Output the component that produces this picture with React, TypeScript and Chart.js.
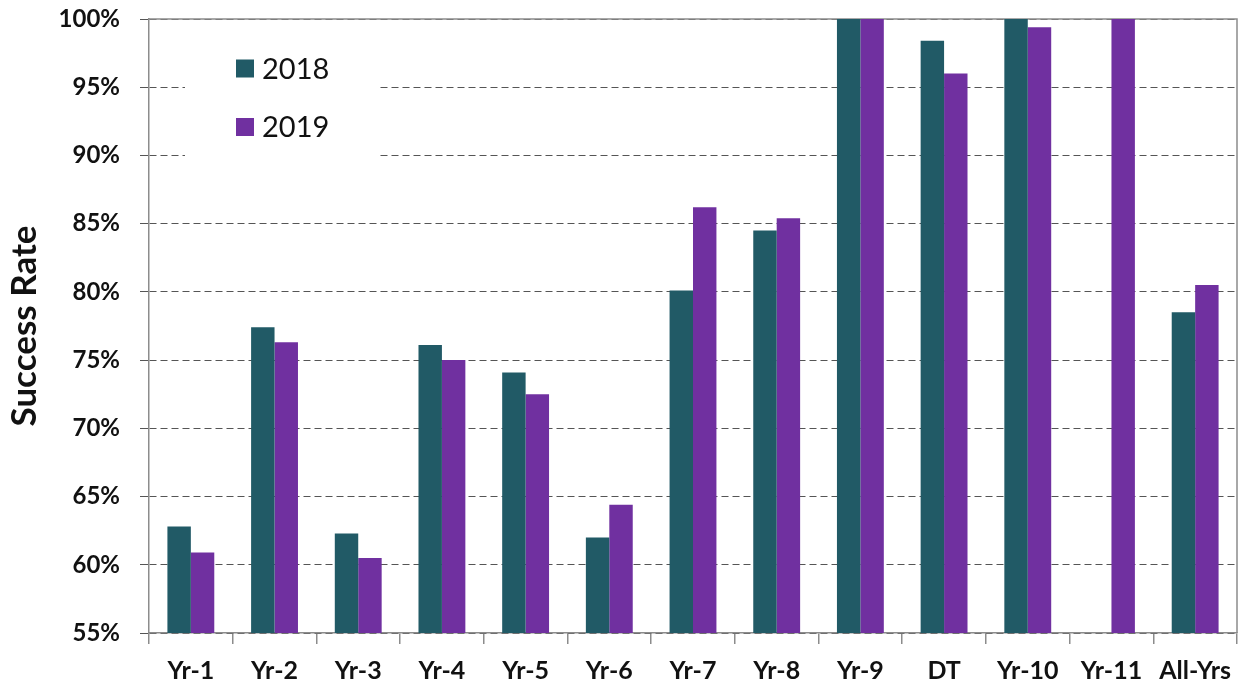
import React, { useEffect, useRef } from "react";
import { Chart, registerables } from "chart.js";

Chart.register(...registerables);

const categories = ["Yr-1", "Yr-2", "Yr-3", "Yr-4", "Yr-5", "Yr-6", "Yr-7", "Yr-8", "Yr-9", "DT", "Yr-10", "Yr-11", "All-Yrs"];
const series2018: (number | null)[] = [62.8, 77.4, 62.3, 76.1, 74.1, 62.0, 80.1, 84.5, 100, 98.4, 100, null, 78.5];
const series2019: (number | null)[] = [60.9, 76.3, 60.5, 75.0, 72.5, 64.4, 86.2, 85.4, 100, 96.0, 99.4, 100, 80.5];
const seriesLabels = ["2018", "2019"];
const yMin = 55;
const yMax = 100;
const yStep = 5;
const yTitle = "Success Rate";

const COLOR_2018 = "#215A66";
const COLOR_2019 = "#7030A0";
const AXIS_COLOR = "#8C8C8C";
const GRID_COLOR = "#555555";
const FONT = "Lato, 'Open Sans', sans-serif";

const framePlugin = {
  id: "frame",
  beforeDatasetsDraw(chart: any) {
    const { ctx, chartArea } = chart;
    ctx.save();
    ctx.strokeStyle = AXIS_COLOR;
    ctx.lineWidth = 1.5;
    ctx.beginPath();
    ctx.moveTo(chartArea.left, chartArea.top);
    ctx.lineTo(chartArea.right, chartArea.top);
    ctx.lineTo(chartArea.right, chartArea.bottom);
    ctx.stroke();

    // legend inside plot
    const boxL = 185, boxT = 32, boxW = 193, boxH = 128;
    ctx.fillStyle = "#ffffff";
    ctx.fillRect(boxL, boxT, boxW, boxH);
    const rows = [68.5, 127];
    chart.data.datasets.forEach((ds: any, i: number) => {
      const cy = rows[i];
      ctx.fillStyle = ds.backgroundColor;
      ctx.fillRect(236, cy - 9, 18, 18);
      ctx.fillStyle = "#111";
      ctx.font = `29px ${FONT}`;
      ctx.textBaseline = "middle";
      ctx.textAlign = "left";
      ctx.fillText(ds.label, 262, cy + 1);
    });
    ctx.restore();
  },
};

export default function App() {
  const ref = useRef<HTMLCanvasElement>(null);
  useEffect(() => {
    document.body.style.margin = "0";
    const chart = new Chart(ref.current!, {
      type: "bar",
      data: {
        labels: categories,
        datasets: [
          { label: seriesLabels[0], data: series2018, backgroundColor: COLOR_2018 },
          { label: seriesLabels[1], data: series2019, backgroundColor: COLOR_2019 },
        ],
      },
      options: {
        animation: false,
        responsive: false,
        layout: { padding: { top: 19, right: 10, left: 0, bottom: 0 } },
        datasets: { bar: { categoryPercentage: 0.56, barPercentage: 1.0 } },
        plugins: { legend: { display: false }, tooltip: { enabled: false } },
        scales: {
          x: {
            grid: { display: true, drawOnChartArea: false, offset: true, tickLength: 11, color: AXIS_COLOR, lineWidth: 1.5 },
            border: { display: true, color: AXIS_COLOR, width: 1.5 },
            ticks: { color: "#111", font: { family: FONT, size: 25, weight: "bold" }, padding: 12, maxRotation: 0, autoSkip: false },
            afterFit(scale: any) {
              scale.height = 55;
              scale.paddingLeft = 0;
              scale.paddingRight = 0;
            },
          },
          y: {
            min: yMin,
            max: yMax,
            grid: { color: GRID_COLOR, lineWidth: 1, tickLength: 9 },
            border: { display: true, color: AXIS_COLOR, width: 1.5, dash: [7, 4] },
            ticks: {
              stepSize: yStep,
              color: "#111",
              padding: 20,
              font: { family: FONT, size: 24, weight: "bold" },
              callback: (v: any) => `${v}%`,
            },
            title: { display: true, text: yTitle, color: "#111", font: { family: FONT, size: 35, weight: "bold" }, padding: { top: 4, bottom: 0 } },
            afterFit(scale: any) {
              scale.width = 149;
              scale.paddingTop = 0;
              scale.paddingBottom = 0;
            },
          },
        },
      },
      plugins: [framePlugin],
    });
    return () => chart.destroy();
  }, []);
  return (
    <div style={{ position: "absolute", left: 0, top: 0, width: 1247, height: 688, background: "#fff" }}>
      <canvas ref={ref} width={1247} height={688} />
    </div>
  );
}
